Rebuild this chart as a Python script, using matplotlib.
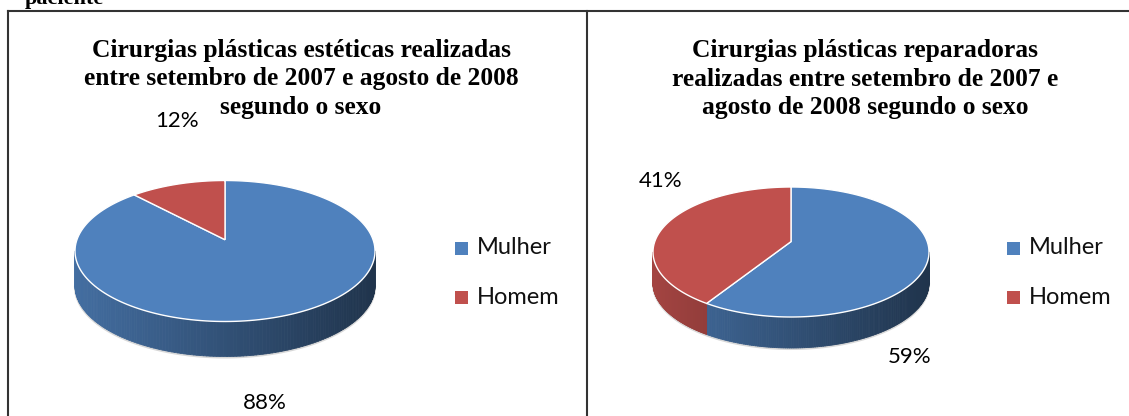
import numpy as np
import matplotlib.pyplot as plt
from matplotlib.colors import to_rgb
from matplotlib.patches import Polygon, Rectangle
from matplotlib.collections import PolyCollection

# categories and values (percent)
categorias = ['Mulher', 'Homem']
esteticas = [88, 12]
reparadoras = [59, 41]
cores = ['#4F81BD', '#C0504D']

titulo_est = 'Cirurgias plásticas estéticas realizadas\nentre setembro de 2007 e agosto de 2008\nsegundo o sexo'
titulo_rep = 'Cirurgias plásticas reparadoras\nrealizadas entre setembro de 2007 e\nagosto de 2008 segundo o sexo'

W, H = 1129, 416
fig = plt.figure(figsize=(W / 100, H / 100), dpi=100)
ax = fig.add_axes([0, 0, 1, 1])
ax.set_xlim(0, W)
ax.set_ylim(H, 0)
ax.axis('off')

CALIBRI = ['Lato', 'DejaVu Sans']
TIMES = 'Liberation Serif'
K = 0.16  # perspective strength


def proj(phi):
    # phi in degrees, clockwise from top (back of the disk)
    t = np.radians(phi)
    d = 1 + K * np.cos(t)
    return np.sin(t) / d, -np.cos(t) / d


_grid = np.linspace(0, 360, 3601)
_gx, _gy = proj(_grid)
XMIN, XMAX, YMIN, YMAX = _gx.min(), _gx.max(), _gy.min(), _gy.max()
PHI_R = _grid[np.argmax(_gx)]
PHI_L = _grid[np.argmin(_gx)]


def ponto(cx, cy, rx, ry, phi):
    u, v = proj(phi)
    x = cx + rx * (2 * (u - XMIN) / (XMAX - XMIN) - 1)
    y = cy + ry * (2 * (v - YMIN) / (YMAX - YMIN) - 1)
    return x, y


def apice(cx, cy, rx, ry):
    x = cx + rx * (2 * (0 - XMIN) / (XMAX - XMIN) - 1)
    y = cy + ry * (2 * (0 - YMIN) / (YMAX - YMIN) - 1)
    return x, y


def pie3d(valores, cx, cy, rx, ry, depth):
    total = float(sum(valores))
    start = 0.0
    fatias = []
    for v, c in zip(valores, cores):
        ext = 360.0 * v / total
        fatias.append((start, start + ext, c))
        start += ext

    left, width = cx - rx, 2 * rx
    # thin shadow under the wall
    ths = np.linspace(PHI_R, PHI_L, 200)
    xs, ys = ponto(cx, cy, rx, ry, ths)
    ax.plot(xs, ys + depth + 1, color='#d8d8d8', lw=1.5, zorder=1)

    # side walls (visible front part)
    for a0, a1, c in fatias:
        lo, hi = max(a0, PHI_R), min(a1, PHI_L)
        if hi <= lo:
            continue
        ths = np.linspace(lo, hi, 150)
        base = np.array(to_rgb(c))
        polys, cols = [], []
        for t0, t1 in zip(ths[:-1], ths[1:]):
            x0, y0 = ponto(cx, cy, rx, ry, t0)
            x1, y1 = ponto(cx, cy, rx, ry, t1)
            polys.append([(x0, y0), (x1, y1), (x1, y1 + depth), (x0, y0 + depth)])
            f = 0.85 - 0.45 * ((x0 + x1) / 2 - left) / width
            cols.append(np.clip(base * f, 0, 1))
        ax.add_collection(PolyCollection(polys, facecolors=cols, edgecolors=cols,
                                         linewidths=0.6, zorder=2))

    # top faces
    ax0, ay0 = apice(cx, cy, rx, ry)
    for a0, a1, c in fatias:
        ths = np.linspace(a0, a1, 200)
        xs, ys = ponto(cx, cy, rx, ry, ths)
        pts = [(ax0, ay0)] + list(zip(xs, ys))
        ax.add_patch(Polygon(pts, closed=True, facecolor=c, edgecolor='white',
                             linewidth=1.0, zorder=3))


def legenda(x, y0):
    for i, (nome, c) in enumerate(zip(categorias, cores)):
        y = y0 + i * 49
        ax.add_patch(Rectangle((x, y - 6.5), 13, 13, facecolor=c, edgecolor='none', zorder=4))
        ax.text(x + 22, y, nome, fontsize=17, family=CALIBRI, va='center', ha='left',
                color='#111111')


# table borders
ax.plot([8, W], [11, 11], color='#333333', lw=1.5)
ax.plot([8, 8], [11, H], color='#333333', lw=1.5)
ax.plot([587, 587], [11, H], color='#333333', lw=1.5)
ax.text(25, 4, 'paciente', fontsize=16, family=TIMES, fontweight='bold', va='baseline')

# left chart
ax.text(301, 79, titulo_est, fontsize=18.4, family=TIMES, fontweight='bold',
        ha='center', va='center', linespacing=1.33)
pie3d(esteticas, 225, 251, 150, 70.5, 35)
legenda(455, 248)
ax.text(177, 121, '%d%%' % esteticas[1], fontsize=16, family=CALIBRI, ha='center', va='center')
ax.text(265, 403, '%d%%' % esteticas[0], fontsize=16, family=CALIBRI, ha='center', va='center')

# right chart
ax.text(865, 79, titulo_rep, fontsize=18.4, family=TIMES, fontweight='bold',
        ha='center', va='center', linespacing=1.33)
pie3d(reparadoras, 791, 252, 138, 65, 31)
legenda(1007, 248)
ax.text(661, 181, '%d%%' % reparadoras[1], fontsize=16, family=CALIBRI, ha='center', va='center')
ax.text(910, 357, '%d%%' % reparadoras[0], fontsize=16, family=CALIBRI, ha='center', va='center')

fig.savefig('out.png', dpi=100)
